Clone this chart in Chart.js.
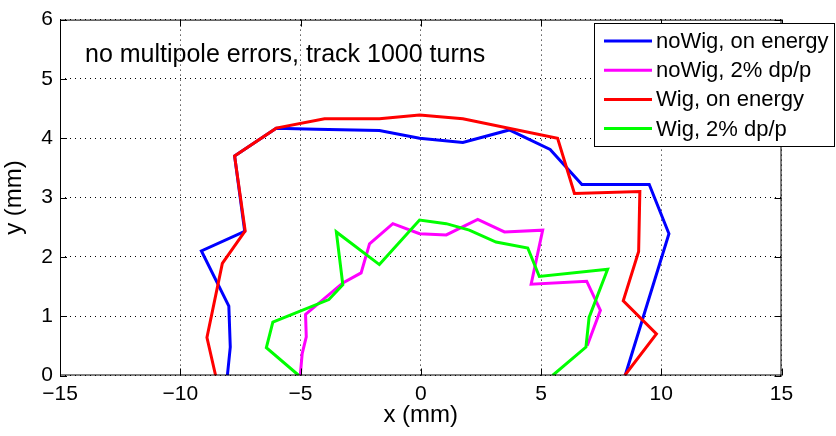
<!DOCTYPE html>
<html>
<head>
<meta charset="utf-8">
<script src="https://cdn.jsdelivr.net/npm/chart.js@4.4.1/dist/chart.umd.min.js"></script>
<style>
  html, body { margin: 0; padding: 0; background: #fff; }
  #wrap { width: 836px; height: 436px; }
</style>
</head>
<body>
<div id="wrap"><canvas id="c"></canvas></div>
<script>
// tick labels
const xTicks = [-15, -10, -5, 0, 5, 10, 15];
const yTicks = [0, 1, 2, 3, 4, 5, 6];

const seriesNames = ['noWig, on energy', 'noWig, 2% dp/p', 'Wig, on energy', 'Wig, 2% dp/p'];
const seriesColors = ['#0000ff', '#ff00ff', '#ff0000', '#00ff00'];
const annotation = 'no multipole errors, track 1000 turns';

// dynamic aperture boundaries (mm)
const noWigOnX = [-8.04, -7.92, -7.98, -9.12, -7.32, -7.74, -6.01, -4.35, -1.72, -0.05, 1.75, 3.68, 5.38, 6.70, 9.50, 10.32, 8.50];
const noWigOnY = [0, 0.48, 1.17, 2.10, 2.43, 3.70, 4.17, 4.15, 4.13, 4.00, 3.93, 4.14, 3.81, 3.22, 3.22, 2.39, 0];

const noWigDpX = [-5.01, -4.93, -4.76, -4.79, -3.24, -2.48, -2.13, -1.16, -0.05, 1.06, 2.37, 3.48, 5.07, 4.59, 6.90, 7.47, 6.92];
const noWigDpY = [0, 0.37, 0.65, 1.03, 1.56, 1.73, 2.22, 2.56, 2.39, 2.37, 2.63, 2.42, 2.45, 1.54, 1.59, 1.10, 0.50];

const wigOnX = [-8.53, -8.89, -8.25, -7.30, -7.74, -6.01, -4.00, -1.72, -0.05, 1.75, 5.69, 6.39, 9.11, 9.06, 8.42, 9.80, 8.48];
const wigOnY = [0, 0.64, 1.89, 2.44, 3.70, 4.17, 4.33, 4.33, 4.39, 4.33, 4.00, 3.07, 3.10, 2.09, 1.26, 0.70, 0];

const wigDpX = [-5.07, -6.42, -6.15, -3.82, -3.24, -3.51, -1.72, -0.05, 1.06, 2.02, 3.13, 4.45, 4.93, 7.77, 7.00, 6.87, 5.48];
const wigDpY = [0, 0.47, 0.90, 1.28, 1.53, 2.42, 1.87, 2.62, 2.56, 2.45, 2.25, 2.15, 1.67, 1.79, 0.98, 0.48, 0];

const FONT = '"Liberation Sans", Arial, sans-serif';

function pts(xs, ys) {
  return xs.map((v, i) => ({ x: v, y: ys[i] }));
}

function minus(v) {
  return v < 0 ? '\u2212' + Math.abs(v) : String(v);
}

// frame, inward ticks, text and legend, MATLAB style
const decor = {
  id: 'decor',
  afterDatasetsDraw(chart) {
    const { ctx, chartArea: a, scales: { x, y } } = chart;
    ctx.save();
    ctx.strokeStyle = '#000';
    ctx.lineWidth = 1;
    ctx.strokeRect(a.left + 0.5, a.top + 0.5, a.right - a.left - 1, a.bottom - a.top - 1);

    ctx.beginPath();
    xTicks.forEach(v => {
      const px = Math.round(x.getPixelForValue(v)) + 0.5;
      ctx.moveTo(px, a.bottom); ctx.lineTo(px, a.bottom - 7);
      ctx.moveTo(px, a.top); ctx.lineTo(px, a.top + 7);
    });
    yTicks.forEach(v => {
      const py = Math.round(y.getPixelForValue(v)) + 0.5;
      ctx.moveTo(a.left, py); ctx.lineTo(a.left + 7, py);
      ctx.moveTo(a.right, py); ctx.lineTo(a.right - 7, py);
    });
    ctx.stroke();

    ctx.fillStyle = '#000';
    ctx.font = '25px ' + FONT;
    ctx.textBaseline = 'alphabetic';
    ctx.fillText(annotation, 85, 62);

    // legend box
    const lx = 594, ly = 23, lw = 240, lh = 123;
    ctx.fillStyle = '#fff';
    ctx.fillRect(lx, ly, lw, lh);
    ctx.strokeRect(lx + 0.5, ly + 0.5, lw, lh);
    ctx.font = '22px ' + FONT;
    ctx.textBaseline = 'middle';
    chart.data.datasets.forEach((ds, i) => {
      const ry = 41 + i * 29.2;
      ctx.strokeStyle = ds.borderColor;
      ctx.lineWidth = 3;
      ctx.beginPath();
      ctx.moveTo(604, ry); ctx.lineTo(652, ry);
      ctx.stroke();
      ctx.fillStyle = '#000';
      ctx.fillText(ds.label, 656, ry + 1);
    });
    ctx.restore();
  }
};

const series = [pts(noWigOnX, noWigOnY), pts(noWigDpX, noWigDpY), pts(wigOnX, wigOnY), pts(wigDpX, wigDpY)];

new Chart(document.getElementById('c'), {
  type: 'scatter',
  data: {
    datasets: series.map((d, i) => ({
      label: seriesNames[i],
      data: d,
      showLine: true,
      borderColor: seriesColors[i],
      backgroundColor: seriesColors[i],
      borderWidth: 3,
      pointRadius: 0,
      tension: 0,
      order: 4 - i
    }))
  },
  options: {
    responsive: true,
    maintainAspectRatio: false,
    animation: false,
    layout: { padding: { top: 15, right: 54.5, left: 0, bottom: 0 } },
    plugins: {
      legend: { display: false },
      tooltip: { enabled: false }
    },
    scales: {
      x: {
        type: 'linear',
        min: -15,
        max: 15,
        afterBuildTicks: s => { s.ticks = xTicks.map(v => ({ value: v })); },
        afterFit: s => { s.height = 60.5; },
        grid: { color: '#000', lineWidth: 1, drawTicks: false },
        border: { display: false, dash: [1, 4] },
        ticks: { color: '#000', padding: 6, font: { family: FONT, size: 21 }, callback: v => minus(v) },
        title: { display: true, text: 'x (mm)', color: '#000', font: { family: FONT, size: 24 }, padding: { top: 0, bottom: 6 } }
      },
      y: {
        type: 'linear',
        min: 0,
        max: 6,
        afterBuildTicks: s => { s.ticks = yTicks.map(v => ({ value: v })); },
        afterFit: s => { s.width = 60; },
        grid: { color: '#000', lineWidth: 1, drawTicks: false },
        border: { display: false, dash: [1, 4] },
        ticks: { color: '#000', padding: 7, font: { family: FONT, size: 21 } },
        title: { display: true, text: 'y (mm)', color: '#000', font: { family: FONT, size: 24 }, padding: { top: 0, bottom: 0 } }
      }
    }
  },
  plugins: [decor]
});
</script>
</body>
</html>
